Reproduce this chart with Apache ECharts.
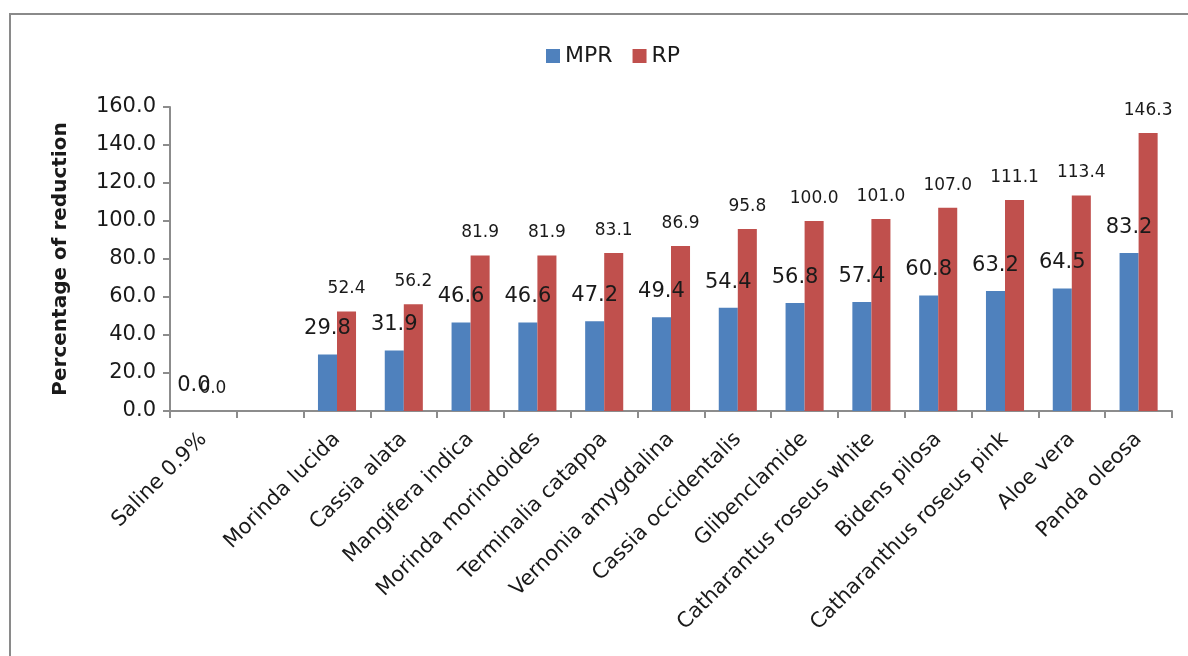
<!DOCTYPE html>
<html>
<head>
<meta charset="utf-8">
<script src="https://cdn.jsdelivr.net/npm/echarts@6/dist/echarts.min.js"></script>
<style>
  html, body { margin: 0; padding: 0; background: #fff; }
  #chart { width: 1188px; height: 656px; }
</style>
</head>
<body>
<div id="chart"></div>
<script>
// Treatments (an empty slot separates the control from the extracts)
const categories = [
  'Saline 0.9%', '', 'Morinda lucida', 'Cassia alata', 'Mangifera indica',
  'Morinda morindoides', 'Terminalia catappa', 'Vernonia amygdalina',
  'Cassia occidentalis', 'Glibenclamide', 'Catharantus roseus white',
  'Bidens pilosa', 'Catharanthus roseus pink', 'Aloe vera', 'Panda oleosa'
];
const mprValues = [0.0, null, 29.8, 31.9, 46.6, 46.6, 47.2, 49.4, 54.4, 56.8, 57.4, 60.8, 63.2, 64.5, 83.2];
const rpValues  = [0.0, null, 52.4, 56.2, 81.9, 81.9, 83.1, 86.9, 95.8, 100.0, 101.0, 107.0, 111.1, 113.4, 146.3];
const yTicks = { min: 0, max: 160, interval: 20 };

const FONT = 'DejaVu Sans';
const TEXT = '#1a1a1a';
const AXIS = '#8c8c8c';

const chart = echarts.init(document.getElementById('chart'), null, { renderer: 'canvas' });

chart.setOption({
  animation: false,
  backgroundColor: '#fff',
  textStyle: { fontFamily: FONT, color: TEXT },
  graphic: [{
    type: 'rect',
    shape: { x: 10, y: 14, width: 1200, height: 700 },
    style: { fill: 'none', stroke: '#8a8a8a', lineWidth: 2 },
    silent: true
  }],
  legend: {
    left: 541,
    top: 40,
    itemWidth: 14,
    itemHeight: 14,
    itemGap: 20,
    icon: 'rect',
    textStyle: { fontFamily: FONT, fontSize: 22, color: TEXT },
    data: ['MPR', 'RP']
  },
  grid: { left: 170, right: 16, top: 107, bottom: 245, containLabel: false },
  xAxis: {
    type: 'category',
    data: categories,
    axisLine: { lineStyle: { color: AXIS, width: 2 } },
    axisTick: { show: true, length: 7, interval: 0, alignWithLabel: false, lineStyle: { color: AXIS, width: 2 } },
    axisLabel: {
      interval: 0,
      rotate: 45,
      margin: 25,
      fontFamily: FONT,
      fontSize: 21,
      color: TEXT
    }
  },
  yAxis: {
    type: 'value',
    min: yTicks.min,
    max: yTicks.max,
    interval: yTicks.interval,
    name: 'Percentage of reduction',
    nameLocation: 'middle',
    nameGap: 99,
    nameTextStyle: { fontFamily: FONT, fontSize: 20, fontWeight: 'bold', color: TEXT },
    axisLine: { show: true, lineStyle: { color: AXIS, width: 2 } },
    axisTick: { show: true, length: 7, lineStyle: { color: AXIS, width: 2 } },
    splitLine: { show: false },
    axisLabel: {
      margin: 14,
      fontFamily: FONT,
      fontSize: 21,
      color: TEXT,
      formatter: v => v.toFixed(1)
    }
  },
  series: [
    {
      name: 'MPR',
      type: 'bar',
      data: mprValues,
      barGap: '0%',
      barCategoryGap: '43%',
      itemStyle: { color: '#4F81BD' },
      label: {
        show: true,
        position: 'top',
        distance: 15,
        fontFamily: FONT,
        fontSize: 21,
        color: TEXT,
        formatter: p => (p.value == null ? '' : p.value.toFixed(1))
      }
    },
    {
      name: 'RP',
      type: 'bar',
      data: rpValues,
      barGap: '0%',
      barCategoryGap: '43%',
      itemStyle: { color: '#C0504D' },
      label: {
        show: true,
        position: 'top',
        distance: 14,
        fontFamily: FONT,
        fontSize: 17,
        color: TEXT,
        formatter: p => (p.value == null ? '' : p.value.toFixed(1))
      }
    }
  ]
});
</script>
</body>
</html>
